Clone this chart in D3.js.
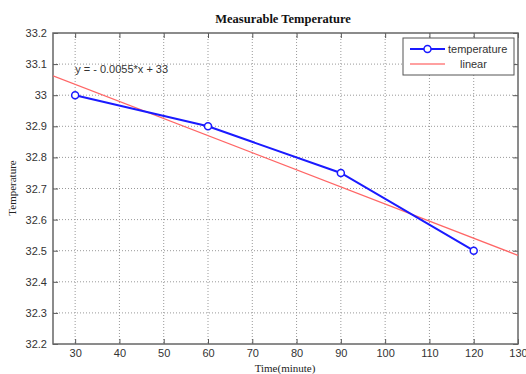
<!DOCTYPE html>
<html>
<head>
<meta charset="utf-8">
<script src="https://cdn.jsdelivr.net/npm/d3@7"></script>
<style>
  body { margin: 0; background: #fff; }
  .tick text { font-family: "Liberation Sans", Arial, sans-serif; font-size: 11px; fill: #333; }
</style>
</head>
<body>
<div id="chart"></div>
<script>
// measured temperature readings
var times = [30, 60, 90, 120];
var temps = [33.0, 32.9, 32.75, 32.5];
// linear fit, end points across the axis range
var fitX = [25, 130];
var fitY = [33.0625, 32.485];
var xTicks = [30, 40, 50, 60, 70, 80, 90, 100, 110, 120, 130];
var yTicks = [32.2, 32.3, 32.4, 32.5, 32.6, 32.7, 32.8, 32.9, 33, 33.1, 33.2];
var eqText = "y = - 0.0055*x + 33";

var W = 526, H = 374;
var margin = {top: 33, right: 8, bottom: 30, left: 53},
    width = W - margin.left - margin.right,
    height = H - margin.top - margin.bottom;

var svg = d3.select("#chart").append("svg")
    .attr("width", W).attr("height", H);

var g = svg.append("g")
    .attr("transform", "translate(" + margin.left + "," + margin.top + ")");

var x = d3.scaleLinear().domain([25, 130]).range([0, width]);
var y = d3.scaleLinear().domain([32.2, 33.2]).range([height, 0]);

// dotted grid
g.selectAll(".vgrid").data(xTicks.filter(function(d){ return d < 130; }))
  .enter().append("line")
  .attr("x1", function(d){ return x(d); }).attr("x2", function(d){ return x(d); })
  .attr("y1", 0).attr("y2", height)
  .style("stroke", "#999").style("stroke-width", 1).style("stroke-dasharray", "1,2");
g.selectAll(".hgrid").data(yTicks.filter(function(d){ return d > 32.2 && d < 33.2; }))
  .enter().append("line")
  .attr("x1", 0).attr("x2", width)
  .attr("y1", function(d){ return y(d); }).attr("y2", function(d){ return y(d); })
  .style("stroke", "#999").style("stroke-width", 1).style("stroke-dasharray", "1,2");

// axes, ticks pointing in like matlab
var xaxis = g.append("g").attr("transform", "translate(0," + height + ")")
  .call(d3.axisBottom(x).tickValues(xTicks).tickSizeInner(-5).tickSizeOuter(0).tickPadding(5));
var xaxisTop = g.append("g")
  .call(d3.axisTop(x).tickValues(xTicks).tickSizeInner(-5).tickSizeOuter(0).tickFormat(""));
var yaxis = g.append("g")
  .call(d3.axisLeft(y).tickValues(yTicks).tickSizeInner(-5).tickSizeOuter(0).tickPadding(6)
    .tickFormat(function(d){ return d3.format("")(+d.toFixed(1)); }));
var yaxisRight = g.append("g").attr("transform", "translate(" + width + ",0)")
  .call(d3.axisRight(y).tickValues(yTicks).tickSizeInner(-5).tickSizeOuter(0).tickFormat(""));

g.selectAll(".domain").remove();
g.selectAll(".tick line").style("stroke", "#555");

g.append("rect")
  .attr("width", width).attr("height", height)
  .style("fill", "none").style("stroke", "#666").style("stroke-width", 1.5);

// clip lines to the axes
g.append("clipPath").attr("id", "clip").append("rect")
  .attr("width", width).attr("height", height);

var fitData = fitX.map(function(d, i){ return {x: d, y: fitY[i]}; });
var tempData = times.map(function(d, i){ return {x: d, y: temps[i]}; });

var line = d3.line().x(function(d){ return x(d.x); }).y(function(d){ return y(d.y); });

g.append("path").datum(fitData)
  .attr("clip-path", "url(#clip)")
  .attr("d", line)
  .style("fill", "none").style("stroke", "#ff6666").style("stroke-width", 1.3);

g.append("path").datum(tempData)
  .attr("d", line)
  .style("fill", "none").style("stroke", "#1a1aff").style("stroke-width", 2);

g.selectAll(".pt").data(tempData).enter().append("circle")
  .attr("cx", function(d){ return x(d.x); })
  .attr("cy", function(d){ return y(d.y); })
  .attr("r", 3.5)
  .style("fill", "#fff").style("stroke", "#1a1aff").style("stroke-width", 1.5);

// equation label
g.append("text")
  .attr("x", x(30)).attr("y", y(33.07))
  .text(eqText)
  .style("font-family", "Liberation Sans, Arial, sans-serif")
  .style("font-size", "11px").style("fill", "#333");

// legend
var lg = svg.append("g").attr("transform", "translate(403,38)");
lg.append("rect").attr("width", 111).attr("height", 37)
  .style("fill", "#fff").style("stroke", "#555").style("stroke-width", 1);
lg.append("line").attr("x1", 7).attr("x2", 42).attr("y1", 11).attr("y2", 11)
  .style("stroke", "#1a1aff").style("stroke-width", 2);
lg.append("circle").attr("cx", 24.5).attr("cy", 11).attr("r", 3.5)
  .style("fill", "#fff").style("stroke", "#1a1aff").style("stroke-width", 1.5);
lg.append("text").attr("x", 45).attr("y", 15).text("temperature")
  .style("font-family", "Liberation Sans, Arial, sans-serif")
  .style("font-size", "11px").style("fill", "#333");
lg.append("line").attr("x1", 7).attr("x2", 42).attr("y1", 26).attr("y2", 26)
  .style("stroke", "#ff8080").style("stroke-width", 1.3);
lg.append("text").attr("x", 57).attr("y", 30).text("linear")
  .style("font-family", "Liberation Sans, Arial, sans-serif")
  .style("font-size", "11px").style("fill", "#333");

// title and axis labels
svg.append("text")
  .attr("x", 283).attr("y", 23).attr("text-anchor", "middle")
  .text("Measurable Temperature")
  .style("font-family", "Liberation Serif, Times New Roman, serif")
  .style("font-weight", "bold").style("font-size", "12.5px").style("fill", "#111");

svg.append("text")
  .attr("x", 285).attr("y", 372).attr("text-anchor", "middle")
  .text("Time(minute)")
  .style("font-family", "Liberation Serif, Times New Roman, serif")
  .style("font-size", "11px").style("fill", "#222");

svg.append("text")
  .attr("transform", "translate(16,188) rotate(-90)")
  .attr("text-anchor", "middle")
  .text("Temperature")
  .style("font-family", "Liberation Serif, Times New Roman, serif")
  .style("font-size", "11px").style("fill", "#222");
</script>
</body>
</html>
